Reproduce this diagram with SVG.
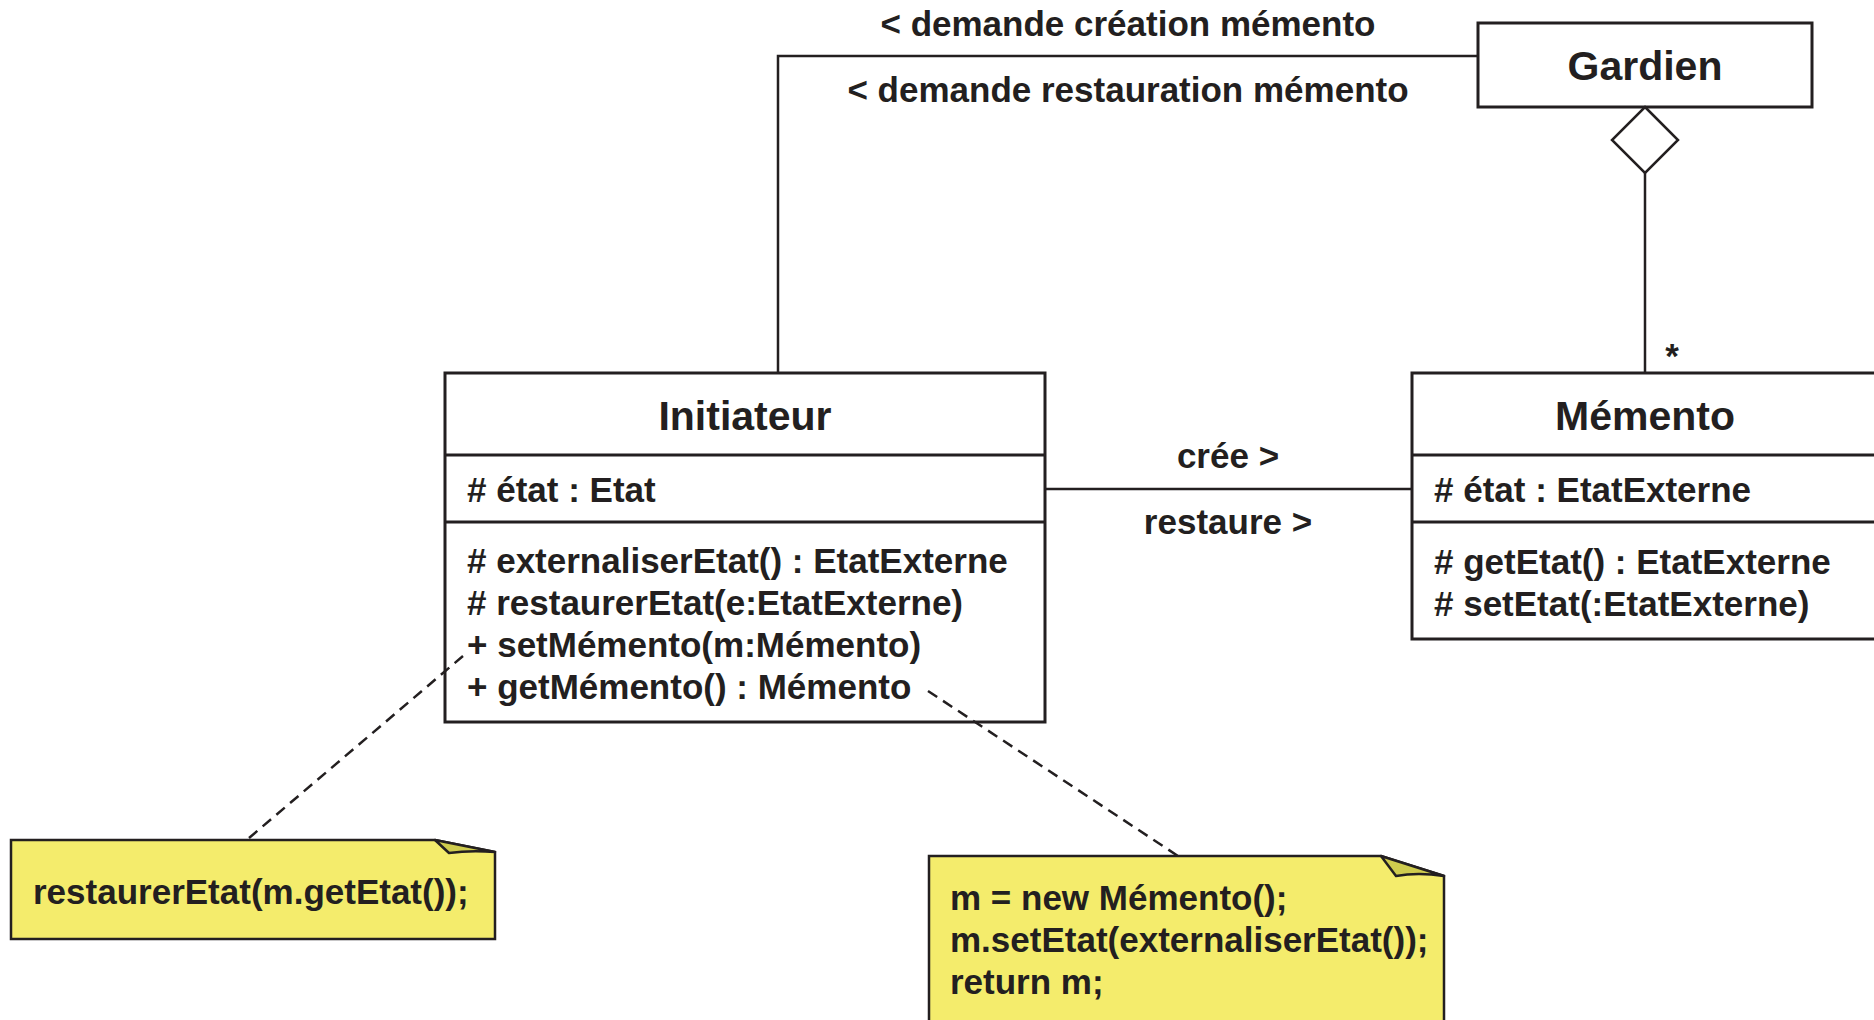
<svg xmlns="http://www.w3.org/2000/svg" width="1874" height="1020" viewBox="0 0 1874 1020">
  <style>
    .box { fill: #ffffff; stroke: #231f20; stroke-width: 3; }
    .sep { stroke: #231f20; stroke-width: 3; }
    .title { font-family: "Liberation Sans", Arial, sans-serif; font-weight: bold; font-size: 41px; fill: #231f20; text-anchor: middle; }
    .txt { font-family: "Liberation Sans", Arial, sans-serif; font-weight: bold; font-size: 35px; fill: #231f20; }
    .mid { text-anchor: middle; }
    .assoc { fill: none; stroke: #231f20; stroke-width: 2.5; }
    .dash { fill: none; stroke: #231f20; stroke-width: 2.5; stroke-dasharray: 11 7; }
    .note { fill: #f4ec6c; stroke: #231f20; stroke-width: 2.5; stroke-linejoin: miter; }
    .fold { fill: #cfcc4e; stroke: #231f20; stroke-width: 2.5; stroke-linejoin: round; }
  </style>

  <!-- Gardien -->
  <g id="gardien">
    <rect class="box" x="1478" y="23" width="334" height="84"/>
    <text class="title" x="1645" y="80">Gardien</text>
  </g>

  <!-- Initiateur -->
  <g id="initiateur">
    <rect class="box" x="445" y="373" width="600" height="349"/>
    <line class="sep" x1="445" y1="455" x2="1045" y2="455"/>
    <line class="sep" x1="445" y1="522" x2="1045" y2="522"/>
    <text class="title" x="745" y="430">Initiateur</text>
    <text class="txt" x="467" y="502"># état : Etat</text>
    <text class="txt" x="467" y="573"># externaliserEtat() : EtatExterne</text>
    <text class="txt" x="467" y="615"># restaurerEtat(e:EtatExterne)</text>
    <text class="txt" x="467" y="657">+ setMémento(m:Mémento)</text>
    <text class="txt" x="467" y="699">+ getMémento() : Mémento</text>
  </g>

  <!-- Mémento -->
  <g id="memento">
    <rect class="box" x="1412" y="373" width="480" height="266"/>
    <line class="sep" x1="1412" y1="455" x2="1892" y2="455"/>
    <line class="sep" x1="1412" y1="522" x2="1892" y2="522"/>
    <text class="title" x="1645" y="430">Mémento</text>
    <text class="txt" x="1434" y="502"># état : EtatExterne</text>
    <text class="txt" x="1434" y="574"># getEtat() : EtatExterne</text>
    <text class="txt" x="1434" y="616"># setEtat(:EtatExterne)</text>
  </g>

  <!-- connectors -->
  <g id="connectors">
    <!-- Initiateur to Gardien -->
    <polyline class="assoc" points="778,373 778,56 1478,56"/>
    <text class="txt mid" x="1128" y="36">&lt; demande création mémento</text>
    <text class="txt mid" x="1128" y="102">&lt; demande restauration mémento</text>
    <!-- Gardien aggregates Mémento -->
    <line class="assoc" x1="1645" y1="173" x2="1645" y2="373"/>
    <polygon class="assoc" points="1645,107 1678,140 1645,173 1612,140" style="fill:#ffffff"/>
    <text class="txt mid" x="1672" y="368">*</text>
    <!-- Initiateur to Mémento -->
    <line class="assoc" x1="1045" y1="489" x2="1412" y2="489"/>
    <text class="txt mid" x="1228" y="468">crée &gt;</text>
    <text class="txt mid" x="1228" y="534">restaure &gt;</text>
    <!-- note anchors, drawn over the class box -->
    <line class="dash" x1="463" y1="656" x2="249" y2="838"/>
    <line class="dash" x1="928" y1="691" x2="1178" y2="856"/>
  </g>

  <!-- note on setMémento -->
  <g id="note-restaurer">
    <path class="note" d="M11,840 L435,840 L495,852 L495,939 L11,939 Z"/>
    <path class="fold" d="M435,840 L449,853 Q470,850 495,852 Z"/>
    <text class="txt" x="33" y="904">restaurerEtat(m.getEtat());</text>
  </g>

  <!-- note on getMémento -->
  <g id="note-get">
    <path class="note" d="M929,856 L1381,856 L1444,876 L1444,1030 L929,1030 Z"/>
    <path class="fold" d="M1381,856 L1396,876 Q1418,872 1444,876 Z"/>
    <text class="txt" x="950" y="910">m = new Mémento();</text>
    <text class="txt" x="950" y="952">m.setEtat(externaliserEtat());</text>
    <text class="txt" x="950" y="994">return m;</text>
  </g>
</svg>
